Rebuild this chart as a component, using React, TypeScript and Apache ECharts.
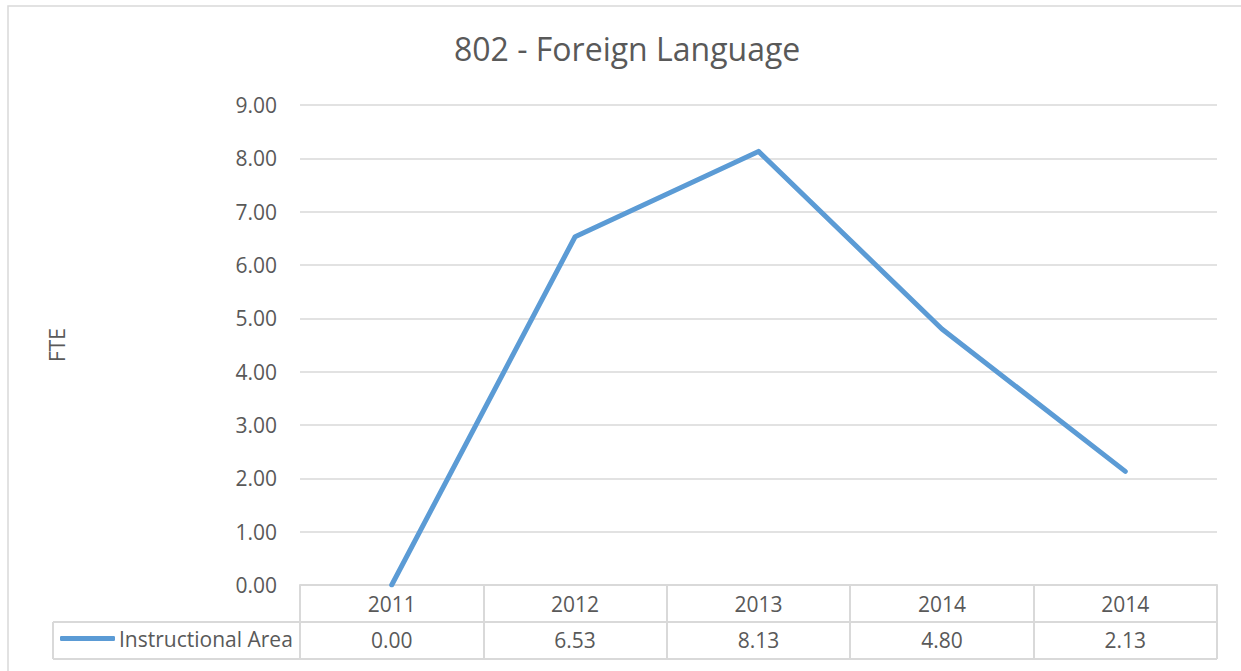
import React, { useEffect, useRef } from "react";
import * as echarts from "echarts";

const titleText = "802 - Foreign Language";
const yAxisName = "FTE";
const seriesName = "Instructional Area";
const categories = ["2011", "2012", "2013", "2014", "2014"];
const values = [0.0, 6.53, 8.13, 4.8, 2.13];

const FONT = "'Open Sans', 'Liberation Sans', sans-serif";
const TXT = "#595959";
const GRID_LINE = "#d9d9d9";
const LINE_COLOR = "#5b9bd5";

const W = 1241;
const H = 671;
const PLOT_L = 300;
const PLOT_R = 1217;
const PLOT_T = 105;
const PLOT_B = 585;
const ROW1 = 622;
const ROW2 = 659;
const LEG_L = 53;
const FS = 21;

export default function App() {
  const ref = useRef<HTMLDivElement>(null);
  useEffect(() => {
    if (!ref.current) return;
    const chart = echarts.init(ref.current, undefined, { renderer: "svg" });
    chart.setOption({
      animation: false,
      backgroundColor: "#ffffff",
      textStyle: { fontFamily: FONT },
      title: {
        text: titleText,
        left: 454,
        top: 32,
        padding: 0,
        textStyle: { fontFamily: FONT, fontSize: 32, fontWeight: "normal", color: TXT },
      },
      legend: {
        data: [{ name: seriesName, icon: "roundRect" }],
        left: 60,
        top: ROW1 + 6,
        padding: 0,
        itemWidth: 55,
        itemHeight: 5,
        itemStyle: { color: LINE_COLOR, borderWidth: 0 },
        textStyle: { fontFamily: FONT, fontSize: FS, color: TXT, padding: [0, 0, 0, -1] },
      },
      grid: {
        left: PLOT_L,
        right: W - PLOT_R,
        top: PLOT_T,
        bottom: H - PLOT_B,
        containLabel: false,
      },
      xAxis: [
        {
          type: "category",
          data: categories,
          boundaryGap: true,
          position: "bottom",
          axisLine: { show: true, lineStyle: { color: GRID_LINE, width: 2 } },
          axisTick: {
            show: true,
            alignWithLabel: false,
            length: ROW2 - PLOT_B,
            lineStyle: { color: GRID_LINE, width: 2 },
          },
          axisLabel: { fontFamily: FONT, fontSize: FS, color: TXT, margin: 8 },
          splitLine: { show: false },
        },
        {
          type: "category",
          data: categories,
          boundaryGap: true,
          position: "bottom",
          axisLine: { show: false },
          axisTick: { show: false },
          axisLabel: {
            fontFamily: FONT,
            fontSize: FS,
            color: TXT,
            margin: 44,
            formatter: (_v: string, i: number) => values[i].toFixed(2),
          },
          splitLine: { show: false },
        },
      ],
      yAxis: {
        type: "value",
        min: 0,
        max: 9,
        interval: 1,
        name: yAxisName,
        nameLocation: "middle",
        nameGap: 233,
        nameRotate: 90,
        nameTextStyle: { fontFamily: FONT, fontSize: FS, color: TXT },
        axisLine: { show: false },
        axisTick: { show: false },
        axisLabel: {
          fontFamily: FONT,
          fontSize: FS,
          color: TXT,
          margin: 23,
          formatter: (v: number) => v.toFixed(2),
        },
        splitLine: { show: true, lineStyle: { color: GRID_LINE, width: 1.5 } },
      },
      series: [
        {
          name: seriesName,
          type: "line",
          data: values,
          xAxisIndex: 0,
          symbol: "none",
          lineStyle: { color: LINE_COLOR, width: 5, cap: "round", join: "round" },
          itemStyle: { color: LINE_COLOR },
        },
      ],
      graphic: [
        {
          type: "rect",
          shape: { x: 8, y: 6, width: W + 20, height: H + 20 },
          style: { fill: "none", stroke: GRID_LINE, lineWidth: 1.5 },
          silent: true,
        },
        {
          type: "line",
          shape: { x1: LEG_L, y1: ROW1, x2: PLOT_R, y2: ROW1 },
          style: { stroke: GRID_LINE, lineWidth: 2 },
          silent: true,
        },
        {
          type: "line",
          shape: { x1: LEG_L, y1: ROW2, x2: PLOT_R, y2: ROW2 },
          style: { stroke: GRID_LINE, lineWidth: 2 },
          silent: true,
        },
        {
          type: "line",
          shape: { x1: LEG_L, y1: ROW1, x2: LEG_L, y2: ROW2 },
          style: { stroke: GRID_LINE, lineWidth: 2 },
          silent: true,
        },
      ],
    });
    return () => chart.dispose();
  }, []);
  return (
    <div
      ref={ref}
      style={{ position: "absolute", left: 0, top: 0, width: W, height: H }}
    />
  );
}
